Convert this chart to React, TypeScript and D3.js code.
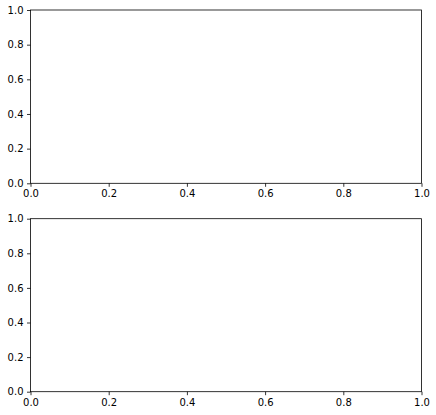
import React, { useEffect, useRef } from 'react';
import * as d3 from 'd3';

const WIDTH = 436;
const HEIGHT = 415;

const xDomain = [0, 1];
const yDomain = [0, 1];
const xTicks = [0, 0.2, 0.4, 0.6, 0.8, 1.0];
const yTicks = [0, 0.2, 0.4, 0.6, 0.8, 1.0];

// top / bottom pixel bounds of each subplot
const panels = [
  { top: 10, bottom: 183.3 },
  { top: 218.7, bottom: 391.7 },
];
const LEFT = 30.5;
const RIGHT = 421.5;

const App = () => {
  const svgRef = useRef<SVGSVGElement>(null);

  useEffect(() => {
    const svg = d3.select(svgRef.current);
    svg.selectAll('*').remove();
    svg.append('rect').attr('width', WIDTH).attr('height', HEIGHT).attr('fill', '#fff');

    const x = d3.scaleLinear().domain(xDomain).range([LEFT, RIGHT]);
    const fmt = d3.format('.1f');

    panels.forEach(p => {
      const y = d3.scaleLinear().domain(yDomain).range([p.bottom, p.top]);
      const g = svg.append('g')
        .style('font-family', 'DejaVu Sans, sans-serif')
        .style('font-size', '10px');

      const xAxis = g.append('g')
        .attr('transform', `translate(0,${p.bottom})`)
        .call(d3.axisBottom(x).tickValues(xTicks).tickFormat(fmt).tickSize(3.5).tickPadding(3.5).tickSizeOuter(0));
      const yAxis = g.append('g')
        .attr('transform', `translate(${LEFT},0)`)
        .call(d3.axisLeft(y).tickValues(yTicks).tickFormat(fmt).tickSize(3.5).tickPadding(3.5).tickSizeOuter(0));

      [xAxis, yAxis].forEach(a => {
        a.select('.domain').remove();
        a.selectAll('line').attr('stroke', '#000').attr('stroke-width', 0.8);
        a.selectAll('text').attr('fill', '#000').style('font-family', 'DejaVu Sans, sans-serif').style('font-size', '10px');
      });

      g.append('rect')
        .attr('x', LEFT)
        .attr('y', p.top)
        .attr('width', RIGHT - LEFT)
        .attr('height', p.bottom - p.top)
        .attr('fill', 'none')
        .attr('stroke', '#000')
        .attr('stroke-width', 0.8);
    });
  }, []);

  return (
    <svg
      ref={svgRef}
      width={WIDTH}
      height={HEIGHT}
      style={{ position: 'absolute', left: 0, top: 0, display: 'block' }}
    />
  );
};

export default App;
